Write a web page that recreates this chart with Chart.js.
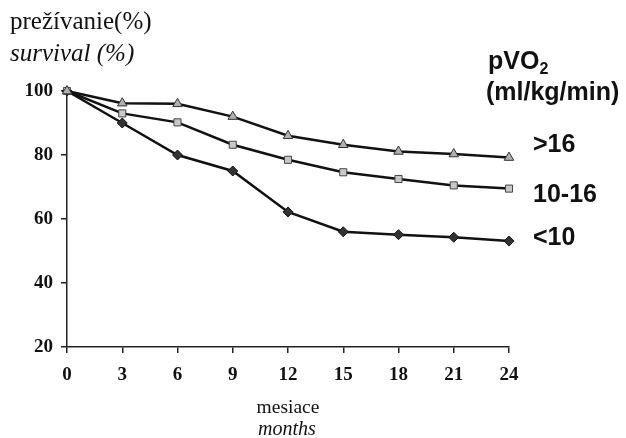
<!DOCTYPE html>
<html>
<head>
<meta charset="utf-8">
<script src="https://cdn.jsdelivr.net/npm/chart.js@4"></script>
<style>
  html, body { margin: 0; padding: 0; background: #fff; }
  #wrap { width: 626px; height: 438px; position: relative; }
</style>
</head>
<body>
<div id="wrap"><canvas id="chart"></canvas></div>
<script>
// data
const months = [0, 3, 6, 9, 12, 15, 18, 21, 24];
const over16 = [100, 96.2, 96, 92, 86, 83.2, 81.1, 80.3, 79.2];
const mid10to16 = [100, 93, 90.2, 83.2, 78.5, 74.6, 72.5, 70.5, 69.5];
const under10 = [100, 90, 80, 75, 62.2, 56, 55.1, 54.3, 53.1];
const seriesLabels = ['>16', '10-16', '<10'];

const toPoints = arr => arr.map((v, i) => ({ x: months[i], y: v }));

// popisky a nadpisy okolo grafu
const textPlugin = {
  id: 'texts',
  afterDraw(chart) {
    const ctx = chart.ctx;
    ctx.save();
    ctx.fillStyle = '#111';
    ctx.textBaseline = 'middle';
    ctx.textAlign = 'left';

    ctx.font = '25px "Liberation Serif", "Times New Roman", serif';
    ctx.fillText('prežívanie(%)', 10, 22);
    ctx.font = 'italic 25px "Liberation Serif", "Times New Roman", serif';
    ctx.fillText('survival (%)', 10, 54);

    ctx.font = 'bold 25px "Liberation Sans", Arial, sans-serif';
    ctx.fillText('pVO', 488, 62);
    const w = ctx.measureText('pVO').width;
    ctx.font = 'bold 16px "Liberation Sans", Arial, sans-serif';
    ctx.fillText('2', 488 + w, 70);
    ctx.font = 'bold 25px "Liberation Sans", Arial, sans-serif';
    ctx.fillText('(ml/kg/min)', 486, 93);

    ctx.fillText(seriesLabels[0], 533, 145);
    ctx.fillText(seriesLabels[1], 533, 195);
    ctx.fillText(seriesLabels[2], 533, 238);

    ctx.textAlign = 'center';
    ctx.font = '19.5px "Liberation Serif", "Times New Roman", serif';
    ctx.fillText('mesiace', 288, 408);
    ctx.font = 'italic 20px "Liberation Serif", "Times New Roman", serif';
    ctx.fillText('months', 287, 430);
    ctx.restore();
  }
};

const tickFont = { family: '"Liberation Serif", "Times New Roman", serif', size: 19, weight: 'bold' };

new Chart(document.getElementById('chart'), {
  type: 'line',
  data: {
    datasets: [
      {
        label: seriesLabels[0],
        data: toPoints(over16),
        borderColor: '#111',
        borderWidth: 2.5,
        pointStyle: 'triangle',
        pointRadius: 5.5,
        pointBackgroundColor: '#b0b0b0',
        pointBorderColor: '#333',
        pointBorderWidth: 1
      },
      {
        label: seriesLabels[1],
        data: toPoints(mid10to16),
        borderColor: '#111',
        borderWidth: 2.5,
        pointStyle: 'rect',
        pointRadius: 5,
        pointBackgroundColor: '#c8c8c8',
        pointBorderColor: '#444',
        pointBorderWidth: 1
      },
      {
        label: seriesLabels[2],
        data: toPoints(under10),
        borderColor: '#111',
        borderWidth: 2.5,
        pointStyle: 'rectRot',
        pointRadius: 5,
        pointBackgroundColor: '#333',
        pointBorderColor: '#111',
        pointBorderWidth: 1
      }
    ]
  },
  options: {
    responsive: true,
    maintainAspectRatio: false,
    animation: false,
    clip: false,
    layout: { padding: { top: 91, right: 117, left: 0, bottom: 0 } },
    plugins: { legend: { display: false }, tooltip: { enabled: false } },
    scales: {
      x: {
        type: 'linear',
        min: 0,
        max: 24,
        afterFit: s => { s.height = 91; },
        ticks: { stepSize: 3, color: '#111', font: tickFont, padding: 11, maxRotation: 0 },
        grid: { drawOnChartArea: false, tickLength: 6, color: '#222', lineWidth: 1.5 },
        border: { color: '#222', width: 1.5 }
      },
      y: {
        min: 20,
        max: 100,
        afterFit: s => { s.width = 67; },
        ticks: { stepSize: 20, color: '#111', font: tickFont, padding: 8 },
        grid: { drawOnChartArea: false, tickLength: 6, color: '#222', lineWidth: 1.5 },
        border: { color: '#222', width: 1.5 }
      }
    }
  },
  plugins: [textPlugin]
});
</script>
</body>
</html>
